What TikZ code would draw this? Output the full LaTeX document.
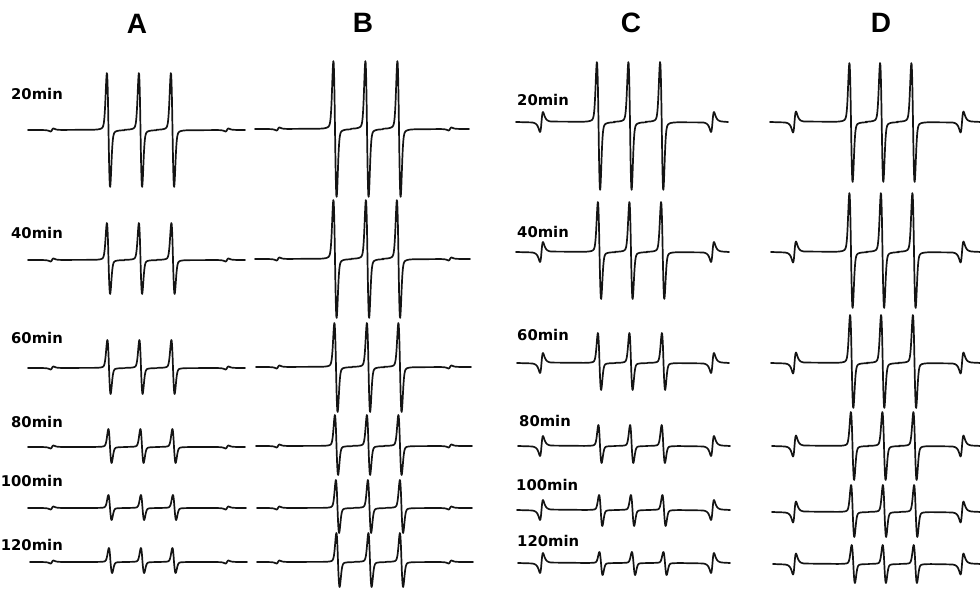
\documentclass[tikz,border=0pt]{standalone}
\usepackage{fontspec}
\setmainfont{Liberation Sans}
\newfontfamily\labfont{DejaVu Sans}
\newcommand\epr[8]{%
  \draw[trace] (#1,#3)
    -- plot[domain=-10:10,samples=41] (\x+\mA, {#3-\mAmp*eprM(\x)})
    -- plot[domain=-16:16,samples=97] (\x+#6, {#3+eprP(\x,#4,#5)})
    -- plot[domain=-16:16,samples=97] (\x+#7, {#3+eprP(\x,#4,#5)})
    -- plot[domain=-16:16,samples=97] (\x+#8, {#3+eprP(\x,#4,#5)})
    -- plot[domain=-10:10,samples=41] (\x+\mB, {#3-\mAmp*eprM(\x)})
    -- (#2,#3);
}
\begin{document}
\begin{tikzpicture}[x=1pt,y=-1pt,
  trace/.style={line width=1.7pt,line join=round,line cap=round,black!92},
  lab/.style={font=\labfont\bfseries\fontsize{14.8}{15}\selectfont,inner sep=0pt},
  ttl/.style={font=\bfseries\fontsize{28}{28}\selectfont,inner sep=0pt},
  declare function={
    gsx(\d)=(\d/1.6)*exp(-min(0.5*(\d/1.6)^2,9));
    lsx(\d)=(\d/2.77)/(1+(\d/2.77)^2)/(1+(\d/2.77)^2);
    eprS(\d)=0.8*gsx(\d)/0.6065+0.2*lsx(\d)/0.3248;
    eprP(\d,\u,\w)=eprS(\d)*ifthenelse(\d<0,\u,\w);
    eprM(\d)=(\d/2.5)/(1+(\d/2.5)^2)/(1+(\d/2.5)^2)/0.3248;
  }]
\useasboundingbox (0,0) rectangle (980,593);

% titles
\node[ttl] (tA) at (137,24) {A};
\node[ttl] (tB) at (363,23) {B};
\node[ttl] (tC) at (631,23) {C};
\node[ttl] (tD) at (881,23) {D};

% panel A
\def\mA{52}\def\mB{227}\def\mAmp{1.5}
\epr{28}{245}{130}{57}{57}{108.5}{140.5}{172.5}
\epr{28}{245}{260}{37}{34}{108.5}{140.5}{173}
\epr{28}{245}{368}{28}{26}{109}{141}{173}
\epr{28}{245}{447}{18}{16}{110}{142}{174}
\epr{28}{246}{508}{13}{12}{110}{142.5}{174.5}
\epr{30}{247}{562}{14}{11}{110.5}{142.5}{174}
\node[lab,anchor=east] (a20) at (63,94) {20min};
\node[lab,anchor=east] (a40) at (63,233) {40min};
\node[lab,anchor=east] (a60) at (63,338) {60min};
\node[lab,anchor=east] (a80) at (63,422) {80min};
\node[lab,anchor=east] (a100) at (63,481) {100min};
\node[lab,anchor=east] (a120) at (63,545) {120min};

% panel B
\def\mA{278}\def\mB{450}\def\mAmp{1.5}
\epr{255}{469}{129}{68}{68}{335}{367}{399}
\epr{255}{470}{259}{59}{59}{335}{367.5}{398.5}
\epr{256}{471}{367}{44}{45}{336}{368.5}{400}
\epr{256}{472}{446}{31}{29}{336.5}{368.5}{400}
\epr{257}{472}{508}{28}{25}{337.5}{369.5}{401.5}
\epr{257}{473}{562}{29}{25}{338}{370}{401.5}

% panel C
\def\mA{541.5}\def\mB{712.5}\def\mAmp{10}
\epr{516}{728}{122}{60}{68}{598.5}{630}{661.7}
\epr{516}{729}{252}{50}{47}{599.5}{631}{662.7}
\epr{517}{729}{363}{30}{27}{599.5}{631}{663.5}
\epr{518}{730}{446}{21}{17}{600}{631.7}{663.3}
\epr{517}{730}{510}{15}{16}{600.7}{632.5}{664}
\epr{518}{730}{563}{11}{12}{601}{633.5}{665}
\node[lab,anchor=west] (c20) at (517,100) {20min};
\node[lab,anchor=west] (c40) at (517,232) {40min};
\node[lab,anchor=west] (c60) at (517,335) {60min};
\node[lab,anchor=west] (c80) at (519,421) {80min};
\node[lab,anchor=west] (c100) at (516,485) {100min};
\node[lab,anchor=west] (c120) at (517,541) {120min};

% panel D
\def\mA{794.5}\def\mB{962}\def\mAmp{10.5}
\epr{770}{981}{122}{59}{60}{851}{881.7}{913}
\epr{771}{981}{252}{59}{56}{851}{882.5}{914}
\epr{771}{981}{363}{48}{45}{851.7}{882.7}{914.5}
\epr{772}{981}{446}{34}{34}{852.5}{884}{915}
\epr{772}{981}{512}{27}{25}{852.7}{884.5}{915.7}
\epr{773}{981}{564}{19}{19}{853.3}{884.3}{915.3}
\end{tikzpicture}
\end{document}
